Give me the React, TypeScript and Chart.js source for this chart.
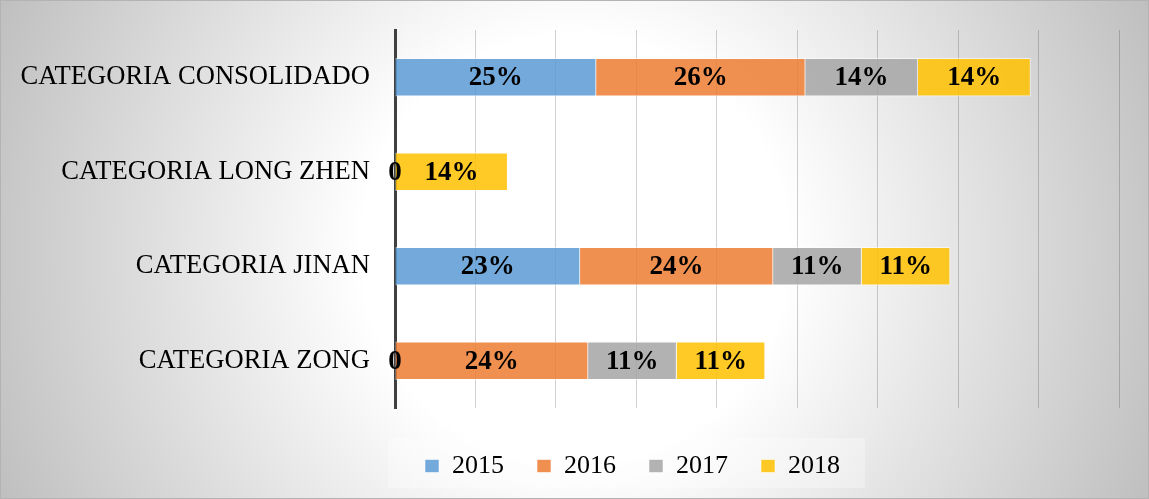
import React, { useEffect, useRef } from "react";
import { Chart, registerables } from "chart.js";

Chart.register(...registerables);

const categories = [
  "CATEGORIA CONSOLIDADO",
  "CATEGORIA LONG ZHEN",
  "CATEGORIA JINAN",
  "CATEGORIA ZONG",
];
const years = ["2015", "2016", "2017", "2018"];
const values2015 = [25, 0, 23, 0];
const values2016 = [26, null, 24, 24];
const values2017 = [14, null, 11, 11];
const values2018 = [14, 14, 11, 11];
const xMin = 0;
const xMax = 90;
const xStep = 10;

const seriesColors = [
  "rgba(91,155,213,0.85)",
  "rgba(237,125,49,0.85)",
  "rgba(165,165,165,0.85)",
  "rgba(255,192,0,0.85)",
];

const FONT = "'Liberation Serif', 'Times New Roman', serif";
const LEGEND_PAD = 33;
const LEGEND_START_X = 425;

const backgroundPlugin = {
  id: "bgPlugin",
  afterLayout(chart: any) {
    const lg = chart.legend;
    if (!lg || !lg.lineWidths) return;
    const lw = lg.lineWidths[0];
    const start = (lg.left + LEGEND_PAD + lg.right - lw) / 2;
    const dx = LEGEND_START_X - start;
    lg.left += dx;
    lg.right += dx;
  },
  beforeDraw(chart: any) {
    const { ctx, width, height } = chart;
    ctx.save();
    const cx = width / 2;
    const cy = height / 2;
    const r = Math.sqrt(cx * cx + cy * cy);
    const g = ctx.createRadialGradient(cx, cy, 0, cx, cy, r);
    g.addColorStop(0, "#ffffff");
    g.addColorStop(0.34, "#ffffff");
    g.addColorStop(1, "#bfbfbf");
    ctx.fillStyle = g;
    ctx.fillRect(0, 0, width, height);
    ctx.fillStyle = "rgba(255,255,255,0.3)";
    ctx.fillRect(388, 438, 477, 50);
    ctx.restore();
  },
  afterDraw(chart: any) {
    const { ctx, width, height } = chart;
    ctx.save();
    ctx.strokeStyle = "#b3b3b3";
    ctx.lineWidth = 1;
    ctx.strokeRect(0.5, 0.5, width - 1, height - 1);
    ctx.restore();
  },
};

const labelPlugin = {
  id: "valueLabels",
  afterDatasetsDraw(chart: any) {
    const { ctx } = chart;
    ctx.save();
    ctx.font = `bold 27px ${FONT}`;
    ctx.fillStyle = "#000000";
    ctx.textAlign = "center";
    ctx.textBaseline = "middle";
    chart.data.datasets.forEach((ds: any, i: number) => {
      const meta = chart.getDatasetMeta(i);
      meta.data.forEach((el: any, j: number) => {
        const v = ds.data[j];
        if (v === null || v === undefined) return;
        const p = el.getProps(["x", "y", "base"], true);
        const cx = (p.x + p.base) / 2;
        ctx.fillText(v === 0 ? "0" : `${v}%`, cx, p.y + 1);
      });
    });
    ctx.restore();
  },
};

export default function App() {
  const ref = useRef<HTMLCanvasElement | null>(null);

  useEffect(() => {
    document.body.style.margin = "0";
    const canvas = ref.current;
    if (!canvas) return;
    const seriesValues = [values2015, values2016, values2017, values2018];
    const chart = new Chart(canvas, {
      type: "bar",
      data: {
        labels: categories,
        datasets: years.map((y, i) => ({
          label: y,
          data: seriesValues[i],
          backgroundColor: seriesColors[i],
          borderColor: "rgba(255,255,255,0.55)",
          borderWidth: (c: any) => (c.raw === 0 ? 0 : 1),
          barThickness: 38,
        })),
      },
      options: {
        indexAxis: "y",
        responsive: false,
        animation: false,
        layout: { padding: { left: 10, right: 30, top: 30, bottom: 10 } },
        scales: {
          x: {
            stacked: true,
            min: xMin,
            max: xMax,
            ticks: { display: false, stepSize: xStep },
            grid: {
              display: true,
              color: "rgba(0,0,0,0.18)",
              lineWidth: 1,
              drawTicks: false,
            },
            border: { display: false },
            afterFit: (s: any) => {
              s.height = 12;
            },
          },
          y: {
            stacked: true,
            grid: {
              display: true,
              drawTicks: true,
              tickLength: 25,
              color: "rgba(0,0,0,0)",
            },
            border: { display: true, color: "#404040", width: 3 },
            ticks: {
              color: "#000000",
              padding: 0,
              font: { family: FONT, size: 26.6 },
            },
            afterFit: (s: any) => {
              s.width = 395 - 10;
            },
          },
        },
        plugins: {
          legend: {
            position: "bottom",
            maxHeight: 80,
            labels: {
              boxWidth: 14,
              boxHeight: 13,
              padding: LEGEND_PAD,
              color: "#000000",
              font: { family: FONT, size: 26 },
            },
          },
          tooltip: { enabled: false },
        },
      },
      plugins: [backgroundPlugin, labelPlugin],
    } as any);
    return () => chart.destroy();
  }, []);

  return (
    <canvas
      ref={ref}
      width={1149}
      height={499}
      style={{ display: "block", width: 1149, height: 499 }}
    />
  );
}
